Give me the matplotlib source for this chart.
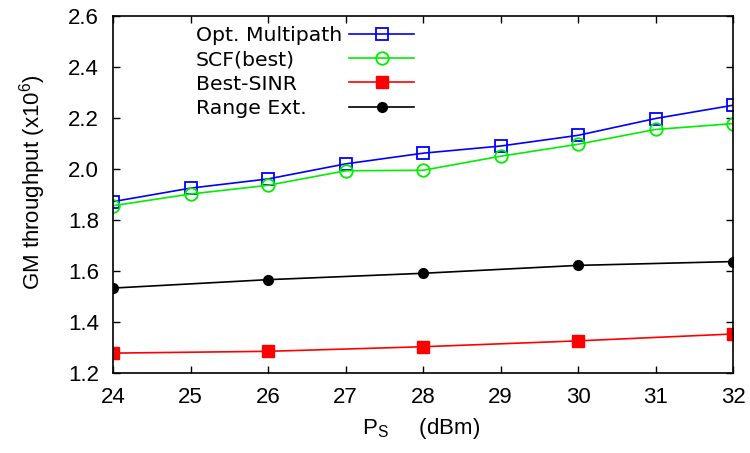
import matplotlib
matplotlib.use("Agg")
import matplotlib.pyplot as plt
from matplotlib.lines import Line2D

# data
ps_all = [24, 25, 26, 27, 28, 29, 30, 31, 32]
opt_multipath = [1.872, 1.925, 1.961, 2.020, 2.062, 2.090, 2.132, 2.198, 2.250]
scf_best = [1.856, 1.902, 1.936, 1.993, 1.995, 2.050, 2.097, 2.155, 2.178]

ps_even = [24, 26, 28, 30, 32]
best_sinr = [1.278, 1.285, 1.303, 1.326, 1.353]
range_ext = [1.533, 1.566, 1.591, 1.622, 1.637]

labels = ["Opt. Multipath", "SCF(best)", "Best-SINR", "Range Ext."]
x_ticks = [24, 25, 26, 27, 28, 29, 30, 31, 32]
y_ticks = [1.2, 1.4, 1.6, 1.8, 2.0, 2.2, 2.4, 2.6]

plt.rcParams['font.family'] = ['Liberation Sans', 'DejaVu Sans']

fig = plt.figure(figsize=(7.5, 4.53), dpi=100)
ax = fig.add_axes([113 / 750, 1 - 373 / 453, 620 / 750, 357 / 453])

lw = 1.2
h1, = ax.plot(ps_all, opt_multipath, color='#0000ff', lw=lw, marker='s',
              ms=9, mfc='none', mec='#0000ff', mew=1.3)
h2, = ax.plot(ps_all, scf_best, color='#00ee00', lw=lw, marker='o',
              ms=9, mfc='none', mec='#00ee00', mew=1.3)
h3, = ax.plot(ps_even, best_sinr, color='#ff0000', lw=lw, marker='s',
              ms=8, mfc='#ff0000', mec='#ff0000')
h4, = ax.plot(ps_even, range_ext, color='black', lw=lw, marker='o',
              ms=7, mfc='black', mec='black')

ax.set_xlim(24, 32)
ax.set_ylim(1.2, 2.6)
ax.set_xticks(x_ticks)
ax.set_yticks(y_ticks)
ax.set_yticklabels([f"{v:.1f}" for v in y_ticks])
ax.tick_params(direction='in', length=5, width=1, top=True, right=True,
               labelsize=16, pad=10)
for s in ax.spines.values():
    s.set_linewidth(1.2)

ax.set_xlabel(r"P$_\mathregular{S}$     (dBm)", fontsize=16, va='top')
ax.set_ylabel(r"GM throughput (x10$^\mathregular{6}$)", fontsize=16)
ax.xaxis.set_label_coords(0.4976, -0.12)
ax.yaxis.set_label_coords(-0.105, 0.534)

# legend: left-aligned labels, samples to the right (gnuplot look)
top = 1 - 26 / 453
prop = {'family': 'DejaVu Sans', 'size': 14.7}
blank = [Line2D([], [], linestyle='none') for _ in labels]
leg_txt = ax.legend(blank, labels, loc='upper left', frameon=False,
                    bbox_to_anchor=(196 / 750, top), bbox_transform=fig.transFigure,
                    borderaxespad=0, borderpad=0, handlelength=0, handletextpad=0,
                    labelspacing=0.26, prop=prop)
ax.add_artist(leg_txt)
ax.legend([h1, h2, h3, h4], [' '] * 4, loc='upper left', frameon=False,
          bbox_to_anchor=(349 / 750, top), bbox_transform=fig.transFigure,
          borderaxespad=0, borderpad=0, handlelength=3.2, handletextpad=0,
          labelspacing=0.26, prop=prop)

fig.savefig("out.png", dpi=100)
